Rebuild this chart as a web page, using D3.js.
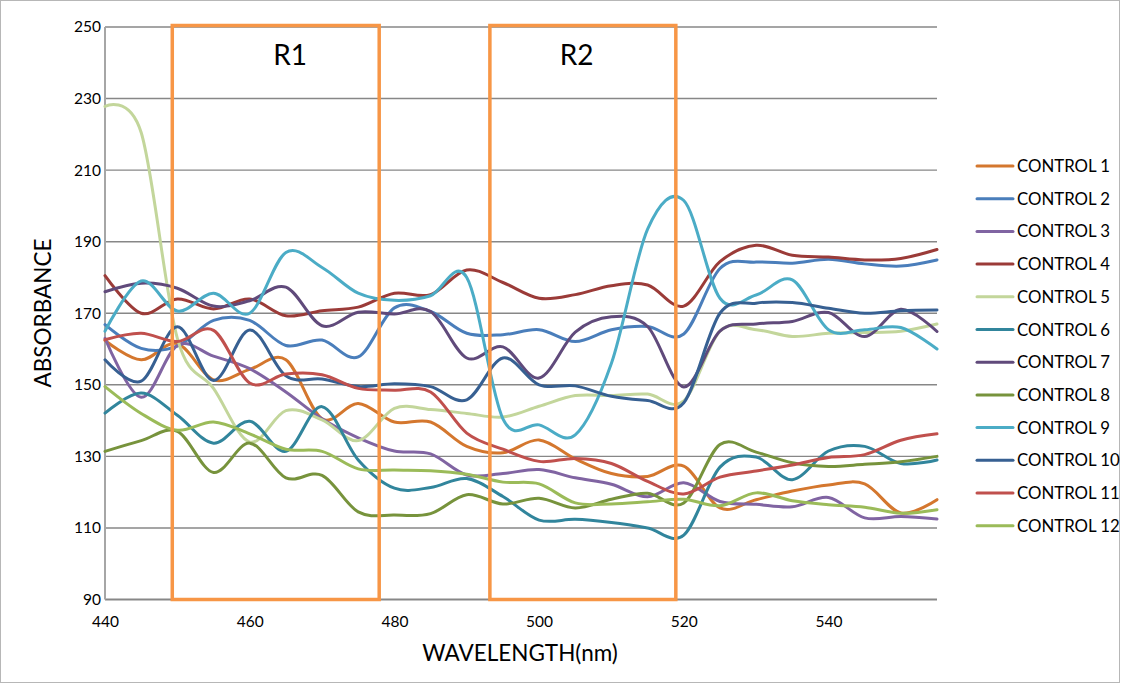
<!DOCTYPE html>
<html>
<head>
<meta charset="utf-8">
<script src="https://cdn.jsdelivr.net/npm/d3@7"></script>
<style>
  html, body { margin: 0; padding: 0; background: #ffffff; }
  svg { display: block; }
</style>
</head>
<body>
<svg id="chart" width="1122" height="685"></svg>
<script>
// Wavelength sampling points (nm)
const wavelengths = [440, 445, 450, 455, 460, 465, 470, 475, 480, 485, 490, 495,
                     500, 505, 510, 515, 520, 525, 530, 535, 540, 545, 550, 555];

const seriesNames = ["CONTROL 1", "CONTROL 2", "CONTROL 3", "CONTROL 4", "CONTROL 5", "CONTROL 6",
                     "CONTROL 7", "CONTROL 8", "CONTROL 9", "CONTROL 10", "CONTROL 11", "CONTROL 12"];

// Absorbance readings per control sample
const control1  = [162.4, 157.0, 161.5, 151.4, 154.3, 157.0, 140.5, 144.8, 139.6, 139.6, 132.8, 131.0,
                   134.6, 129.3, 125.2, 124.4, 127.3, 115.6, 117.9, 120.3, 122.0, 122.3, 114.2, 117.9];
const control2  = [166.8, 160.2, 160.8, 168.0, 168.0, 161.0, 162.5, 157.8, 171.5, 170.5, 164.4, 164.0,
                   165.4, 162.1, 165.4, 166.3, 164.2, 182.5, 184.3, 184.0, 185.1, 183.8, 183.2, 184.9];
const control3  = [163.0, 146.5, 161.0, 158.0, 154.5, 148.0, 140.5, 135.2, 131.5, 130.7, 124.8, 125.2,
                   126.3, 124.0, 122.2, 118.7, 122.6, 117.4, 116.6, 115.9, 118.5, 112.8, 113.2, 112.5];
const control4  = [180.5, 170.0, 174.0, 171.2, 174.0, 169.3, 170.7, 171.7, 175.6, 175.2, 182.1, 178.6,
                   174.2, 175.2, 177.7, 177.9, 172.0, 184.4, 189.0, 186.2, 185.7, 184.9, 185.3, 187.8];
const control5  = [227.8, 220.5, 163.0, 149.0, 134.0, 142.8, 140.2, 134.4, 143.4, 143.1, 142.0, 141.0,
                   144.0, 147.0, 147.0, 147.4, 145.5, 165.0, 165.4, 163.5, 164.4, 164.6, 165.0, 167.0];
const control6  = [142.1, 147.7, 141.5, 133.7, 139.8, 131.4, 143.9, 129.0, 121.1, 121.3, 123.8, 118.8,
                   112.2, 112.4, 111.5, 110.0, 108.0, 127.0, 129.8, 123.5, 131.5, 132.8, 128.0, 129.0];
const control7  = [176.0, 178.4, 177.0, 172.0, 173.5, 177.3, 166.5, 170.3, 169.8, 170.5, 157.5, 160.6,
                   151.9, 164.7, 169.0, 166.3, 149.4, 165.0, 167.0, 167.7, 170.2, 163.5, 171.1, 164.9];
const control8  = [131.4, 134.4, 137.0, 125.5, 133.7, 124.0, 124.7, 114.5, 113.6, 114.0, 119.3, 116.7,
                   118.3, 115.6, 118.0, 119.7, 117.0, 133.3, 131.2, 128.2, 127.2, 127.8, 128.5, 130.0];
const control9  = [165.0, 179.0, 170.6, 175.6, 170.0, 187.0, 182.8, 175.6, 173.6, 174.9, 180.0, 140.5,
                   138.8, 136.0, 156.0, 193.5, 201.5, 174.2, 175.1, 179.3, 165.4, 165.4, 166.0, 160.0];
const control10 = [157.0, 151.0, 166.2, 151.2, 165.3, 152.5, 151.6, 149.5, 150.3, 149.5, 145.8, 157.5,
                   150.0, 149.7, 146.8, 145.6, 145.0, 170.0, 172.8, 173.0, 171.4, 170.0, 170.7, 170.9];
const control11 = [162.6, 164.4, 162.1, 165.2, 150.5, 153.0, 152.8, 149.0, 148.5, 148.0, 136.5, 132.0,
                   128.6, 129.4, 128.0, 123.0, 119.5, 124.2, 125.9, 127.6, 129.7, 130.5, 134.5, 136.3];
const control12 = [149.5, 142.0, 137.3, 139.6, 136.3, 132.0, 131.4, 126.5, 126.2, 126.0, 125.0, 122.8,
                   122.3, 117.0, 116.7, 117.3, 118.0, 116.2, 119.8, 117.6, 116.5, 115.8, 114.1, 115.1];

const seriesValues = [control1, control2, control3, control4, control5, control6,
                      control7, control8, control9, control10, control11, control12];

const seriesColors = ["#D4772E", "#4A7EBB", "#8064A2", "#9B3B38", "#C3D69B", "#31859C",
                      "#604A7B", "#77933C", "#4BACC6", "#376092", "#C0504D", "#9BBB59"];

const yTicks = [90, 110, 130, 150, 170, 190, 210, 230, 250];
const xTicks = [440, 460, 480, 500, 520, 540];

// Highlighted wavelength windows
const regionNames = ["R1", "R2"];
const regionStart = [449.3, 493.2];
const regionEnd   = [477.9, 518.9];
const regionLabelAt = [465.6, 505.2];

const svg = d3.select("#chart");
const W = 1122, H = 685;
const plot = { left: 105, right: 937, top: 27, bottom: 599.5 };

const fontFamily = "Lato, 'Open Sans', sans-serif";

// chart frame
svg.append("rect")
  .attr("x", 0.5).attr("y", 0.5)
  .attr("width", W - 3).attr("height", H - 3)
  .attr("fill", "#ffffff")
  .attr("stroke", "#b7b7b7")
  .attr("stroke-width", 1);

const x = d3.scaleLinear().domain([440, 555]).range([plot.left, plot.right]);
const y = d3.scaleLinear().domain([90, 250]).range([plot.bottom, plot.top]);

// horizontal gridlines
svg.append("g")
  .selectAll("line")
  .data(yTicks.filter(d => d !== 90))
  .join("line")
  .attr("x1", plot.left).attr("x2", plot.right)
  .attr("y1", d => y(d)).attr("y2", d => y(d))
  .attr("stroke", "#878787")
  .attr("stroke-width", 1.4);

// axis lines
svg.append("line")
  .attr("x1", plot.left).attr("x2", plot.right)
  .attr("y1", y(90)).attr("y2", y(90))
  .attr("stroke", "#878787").attr("stroke-width", 2);
svg.append("line")
  .attr("x1", plot.left).attr("x2", plot.left)
  .attr("y1", plot.top).attr("y2", y(90))
  .attr("stroke", "#a6a6a6").attr("stroke-width", 2);

// y axis tick labels
const yAxis = d3.axisLeft(y).tickValues(yTicks).tickSize(0).tickPadding(4);
const gy = svg.append("g").attr("transform", `translate(${plot.left},0)`).call(yAxis);
gy.select(".domain").remove();
gy.selectAll("text")
  .attr("font-family", fontFamily).attr("font-size", 15.5).attr("fill", "#000");

// x axis tick labels
const xAxis = d3.axisBottom(x).tickValues(xTicks).tickSize(0).tickPadding(16)
  .tickFormat(d3.format("d"));
const gx = svg.append("g").attr("transform", `translate(0,${y(90)})`).call(xAxis);
gx.select(".domain").remove();
gx.selectAll("text")
  .attr("font-family", fontFamily).attr("font-size", 15.5).attr("fill", "#000");

// axis titles
svg.append("text")
  .attr("x", 520).attr("y", 661)
  .attr("text-anchor", "middle")
  .attr("font-family", fontFamily).attr("font-size", 22.5)
  .text("WAVELENGTH(nm)");
svg.append("text")
  .attr("transform", "translate(51,313) rotate(-90)")
  .attr("text-anchor", "middle")
  .attr("font-family", fontFamily).attr("font-size", 22.5)
  .text("ABSORBANCE");

// spectra, drawn as smoothed lines
const line = d3.line()
  .x((d, i) => x(wavelengths[i]))
  .y(d => y(d))
  .curve(d3.curveCardinal.tension(0));

svg.append("g")
  .selectAll("path")
  .data(seriesValues)
  .join("path")
  .attr("d", d => line(d))
  .attr("fill", "none")
  .attr("stroke", (d, i) => seriesColors[i])
  .attr("stroke-width", 3)
  .attr("stroke-linejoin", "round")
  .attr("stroke-linecap", "round");

// region boxes
const regionG = svg.append("g");
regionNames.forEach((name, i) => {
  regionG.append("rect")
    .attr("x", x(regionStart[i]))
    .attr("y", plot.top - 1.5)
    .attr("width", x(regionEnd[i]) - x(regionStart[i]))
    .attr("height", y(90) - plot.top + 1.5)
    .attr("fill", "none")
    .attr("stroke", "#F79646")
    .attr("stroke-width", 3.5);
  regionG.append("text")
    .attr("x", x(regionLabelAt[i]))
    .attr("y", 65)
    .attr("text-anchor", "middle")
    .attr("font-family", fontFamily).attr("font-size", 28)
    .attr("fill", "#000")
    .text(name);
});

// legend
const legend = svg.append("g");
seriesNames.forEach((name, i) => {
  const ly = 166 + i * 32.7;
  legend.append("line")
    .attr("x1", 977).attr("x2", 1013)
    .attr("y1", ly).attr("y2", ly)
    .attr("stroke", seriesColors[i])
    .attr("stroke-width", 3)
    .attr("stroke-linecap", "round");
  legend.append("text")
    .attr("x", 1017).attr("y", ly)
    .attr("dy", "0.36em")
    .attr("font-family", fontFamily).attr("font-size", 16.8)
    .attr("fill", "#000")
    .text(name);
});
</script>
</body>
</html>
